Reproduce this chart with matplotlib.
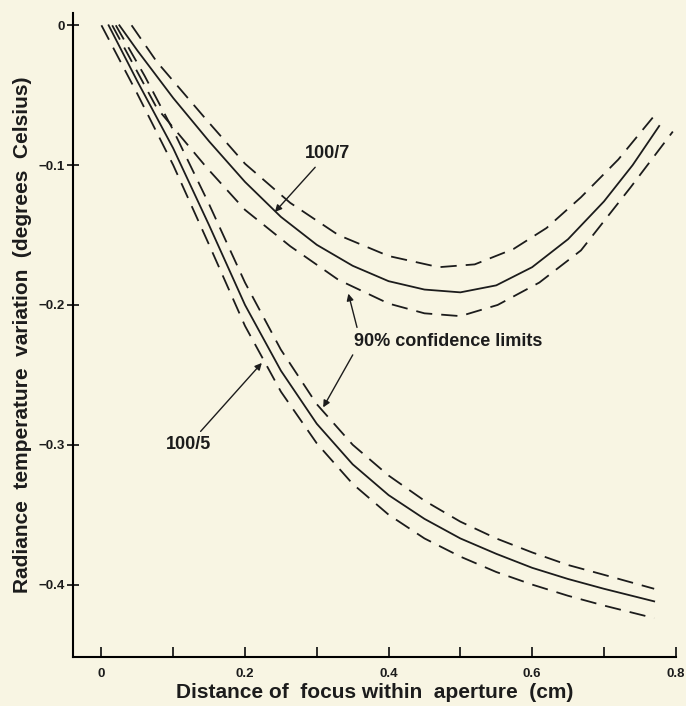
import matplotlib as mpl
mpl.use("agg")
import matplotlib.pyplot as plt

# 100/7 aperture: mean curve and 90% confidence limits
x_7 = [0.025, 0.05, 0.1, 0.15, 0.2, 0.25, 0.3, 0.35, 0.4, 0.45, 0.5, 0.55, 0.6, 0.65, 0.7, 0.74, 0.777]
y_7 = [0.0, -0.018, -0.052, -0.083, -0.112, -0.137, -0.157, -0.172, -0.183, -0.189, -0.191, -0.186, -0.173, -0.153, -0.126, -0.100, -0.072]

x_7_hi = [0.042, 0.077, 0.147, 0.2, 0.263, 0.33, 0.4, 0.47, 0.52, 0.574, 0.62, 0.668, 0.72, 0.768]
y_7_hi = [0.0, -0.026, -0.068, -0.099, -0.127, -0.150, -0.165, -0.173, -0.171, -0.160, -0.145, -0.123, -0.096, -0.066]

x_7_lo = [0.015, 0.077, 0.147, 0.2, 0.263, 0.33, 0.4, 0.45, 0.5, 0.552, 0.61, 0.668, 0.737, 0.796]
y_7_lo = [0.0, -0.059, -0.102, -0.132, -0.158, -0.182, -0.199, -0.206, -0.208, -0.200, -0.184, -0.161, -0.116, -0.076]

# 100/5 aperture
x_5 = [0.01, 0.05, 0.1, 0.15, 0.2, 0.25, 0.3, 0.35, 0.4, 0.45, 0.5, 0.55, 0.6, 0.65, 0.7, 0.77]
y_5 = [0.0, -0.040, -0.088, -0.143, -0.200, -0.247, -0.285, -0.314, -0.336, -0.353, -0.367, -0.378, -0.388, -0.396, -0.403, -0.412]

x_5_hi = [0.02, 0.06, 0.1, 0.15, 0.2, 0.25, 0.3, 0.35, 0.4, 0.45, 0.5, 0.55, 0.6, 0.65, 0.7, 0.77]
y_5_hi = [0.0, -0.036, -0.075, -0.128, -0.184, -0.232, -0.271, -0.300, -0.322, -0.340, -0.355, -0.367, -0.377, -0.386, -0.393, -0.403]

x_5_lo = [0.0, 0.05, 0.1, 0.15, 0.2, 0.25, 0.3, 0.35, 0.4, 0.45, 0.5, 0.55, 0.6, 0.65, 0.7, 0.77]
y_5_lo = [0.0, -0.049, -0.100, -0.157, -0.215, -0.262, -0.299, -0.328, -0.350, -0.367, -0.380, -0.391, -0.400, -0.408, -0.415, -0.424]

x_ticks = [0, 0.1, 0.2, 0.3, 0.4, 0.5, 0.6, 0.7, 0.8]
x_labels = ["0", "", "0.2", "", "0.4", "", "0.6", "", "0.8"]
y_ticks = [0, -0.1, -0.2, -0.3, -0.4]
y_labels = ["0", "\u22120.1", "\u22120.2", "\u22120.3", "\u22120.4"]

paper = "#f8f5e3"
ink = "#1c1c1c"

plt.rcParams["font.family"] = ["Liberation Sans", "DejaVu Sans"]

fig = plt.figure(figsize=(6.86, 7.06), dpi=100, facecolor=paper)
ax = fig.add_axes([0.106, 0.069, 0.879, 0.913])
ax.set_facecolor(paper)

solid = dict(color=ink, linewidth=1.3)
dashed = dict(color=ink, linewidth=1.3, dashes=(9, 5))

ax.plot(x_7, y_7, **solid)
ax.plot(x_7_hi, y_7_hi, **dashed)
ax.plot(x_7_lo, y_7_lo, **dashed)
ax.plot(x_5, y_5, **solid)
ax.plot(x_5_hi, y_5_hi, **dashed)
ax.plot(x_5_lo, y_5_lo, **dashed)

ax.set_xlim(-0.04, 0.8)
ax.set_ylim(-0.452, 0.009)
ax.spines["top"].set_visible(False)
ax.spines["right"].set_visible(False)
ax.spines["left"].set_linewidth(1.5)
ax.spines["bottom"].set_linewidth(1.5)

ax.set_xticks(x_ticks)
ax.set_xticklabels(x_labels, fontsize=9.5, fontweight="bold")
ax.set_yticks(y_ticks)
ax.set_yticklabels(y_labels, fontsize=9.5, fontweight="bold")
ax.tick_params(axis="x", direction="in", length=7, width=1.3, pad=8, colors=ink)
ax.tick_params(axis="y", direction="inout", length=8, width=1.3, pad=2, colors=ink)

ax.set_xlabel("Distance of  focus within  aperture  (cm)", fontsize=15,
              fontweight="bold", color=ink, labelpad=2)
ax.set_ylabel("Radiance  temperature  variation  (degrees  Celsius)", fontsize=15,
              fontweight="bold", color=ink, labelpad=4)

arrow = dict(arrowstyle="-|>", color=ink, linewidth=1.0, mutation_scale=10)
ax.annotate("100/7", xy=(0.239, -0.135), xytext=(0.283, -0.092),
            fontsize=13, fontweight="bold", color=ink, ha="left", va="center",
            arrowprops=arrow)
ax.annotate("", xy=(0.343, -0.190), xytext=(0.357, -0.218), arrowprops=arrow)
ax.annotate("", xy=(0.307, -0.275), xytext=(0.352, -0.234), arrowprops=arrow)
ax.text(0.352, -0.226, "90% confidence limits", fontsize=13, fontweight="bold",
        color=ink, ha="left", va="center")
ax.annotate("100/5", xy=(0.226, -0.240), xytext=(0.09, -0.3),
            fontsize=13, fontweight="bold", color=ink, ha="left", va="center",
            arrowprops=arrow)

fig.savefig("out.png", dpi=100, facecolor=paper)
